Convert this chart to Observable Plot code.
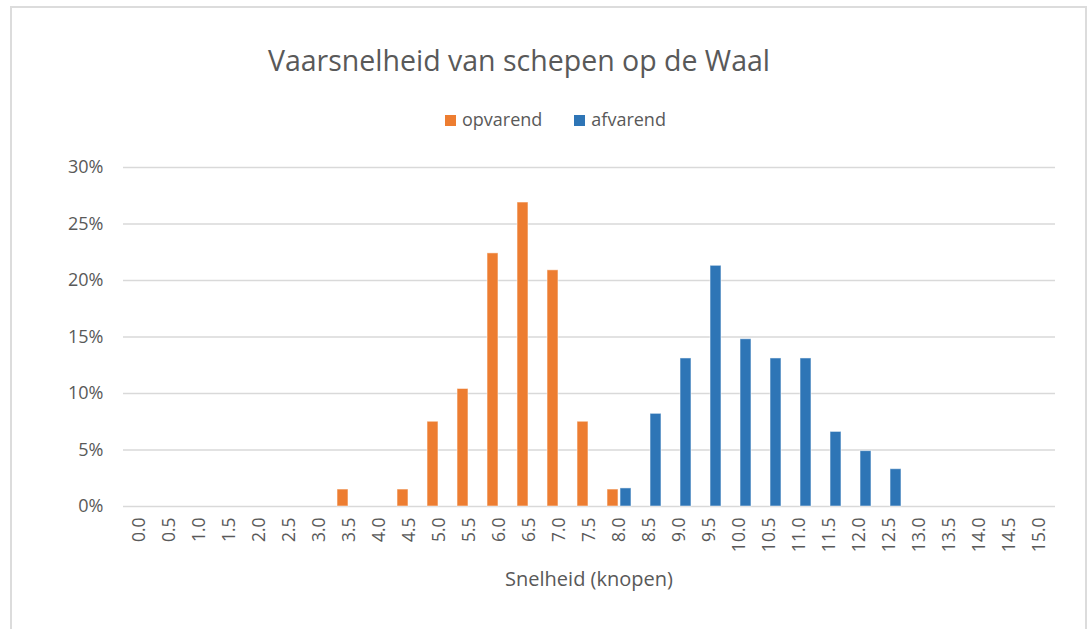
<!DOCTYPE html>
<html>
<head>
<meta charset="utf-8">
<script src="https://cdn.jsdelivr.net/npm/d3@7"></script>
<script src="https://cdn.jsdelivr.net/npm/@observablehq/plot@0.6"></script>
<style>
html, body { margin: 0; padding: 0; background: #fff; }
body { width: 1087px; height: 629px; position: relative; overflow: hidden; font-family: "Open Sans", sans-serif; color: #595959; }
#frame { position: absolute; left: 10px; top: 6px; width: 1077px; height: 660px; border: 2px solid #dcdcdc; box-sizing: border-box; }
#title { position: absolute; left: 0; width: 1038px; top: 46px; text-align: center; font-size: 28.5px; line-height: 1; white-space: nowrap; }
#legend { position: absolute; left: 445px; top: 110px; display: flex; align-items: baseline; font-size: 18px; line-height: 1; }
#legend .sw { display: inline-block; width: 11px; height: 11px; margin-right: 6px; }
#legend .item { display: flex; align-items: baseline; }
#legend .item + .item { margin-left: 32px; }
#chart { position: absolute; left: 0; top: 140px; }
#xlabel { position: absolute; left: 0; width: 1178px; top: 569px; text-align: center; font-size: 20px; line-height: 1; }
</style>
</head>
<body>
<div id="frame"></div>
<div id="title">Vaarsnelheid van schepen op de Waal</div>
<div id="legend"></div>
<div id="chart"></div>
<div id="xlabel">Snelheid (knopen)</div>
<script>
// Categories (speed in knots) and tick labels
const speeds = ["0.0","0.5","1.0","1.5","2.0","2.5","3.0","3.5","4.0","4.5","5.0","5.5","6.0","6.5","7.0","7.5",
                "8.0","8.5","9.0","9.5","10.0","10.5","11.0","11.5","12.0","12.5","13.0","13.5","14.0","14.5","15.0"];
// Series values, in percent
const opvarend = [0,0,0,0,0,0,0,1.5,0,1.5,7.5,10.4,22.4,26.9,20.9,7.5,1.5,0,0,0,0,0,0,0,0,0,0,0,0,0,0];
const afvarend = [0,0,0,0,0,0,0,0,0,0,0,0,0,0,0,0,1.6,8.2,13.1,21.3,14.8,13.1,13.1,6.6,4.9,3.3,0,0,0,0,0];
const seriesNames = ["opvarend", "afvarend"];
const seriesColors = ["#ED7D31", "#2E75B6"];
const yTicks = [0, 0.05, 0.10, 0.15, 0.20, 0.25, 0.30];

const rowsOp = speeds.map((s, i) => ({speed: s, series: "opvarend", value: opvarend[i] / 100})).filter(d => d.value > 0);
const rowsAf = speeds.map((s, i) => ({speed: s, series: "afvarend", value: afvarend[i] / 100})).filter(d => d.value > 0);

// Legend
const legend = document.getElementById("legend");
seriesNames.forEach((name, i) => {
  const item = document.createElement("span");
  item.className = "item";
  const sw = document.createElement("span");
  sw.className = "sw";
  sw.style.background = seriesColors[i];
  const label = document.createElement("span");
  label.textContent = name;
  item.appendChild(sw);
  item.appendChild(label);
  legend.appendChild(item);
});

const barOpts = {x: "speed", y: "value", fill: "series", insetLeft: 9.53, insetRight: 9.53, stroke: "#fff", strokeOpacity: 0.5, strokeWidth: 1};

const chart = Plot.plot({
  width: 1087,
  height: 460,
  marginLeft: 123,
  marginRight: 32,
  marginTop: 27,
  marginBottom: 94,
  style: {fontFamily: "'Open Sans', sans-serif", fontSize: "18px", color: "#595959", background: "transparent", overflow: "visible"},
  x: {domain: speeds, padding: 0, label: null},
  y: {domain: [0, 0.30], label: null},
  color: {domain: seriesNames, range: seriesColors},
  marks: [
    Plot.ruleY(yTicks, {stroke: "#d9d9d9", strokeWidth: 1.5}),
    Plot.axisY({ticks: yTicks, tickFormat: d3.format(".0%"), tickSize: 0, tickPadding: 20, label: null, fontSize: 18}),
    Plot.axisX({tickSize: 0, tickPadding: 11, tickRotate: -90, label: null, fontSize: 17.5}),
    Plot.barY(rowsOp, {...barOpts, dx: -6.5}),
    Plot.barY(rowsAf, {...barOpts, dx: 6.5})
  ]
});
document.getElementById("chart").appendChild(chart);
</script>
</body>
</html>
